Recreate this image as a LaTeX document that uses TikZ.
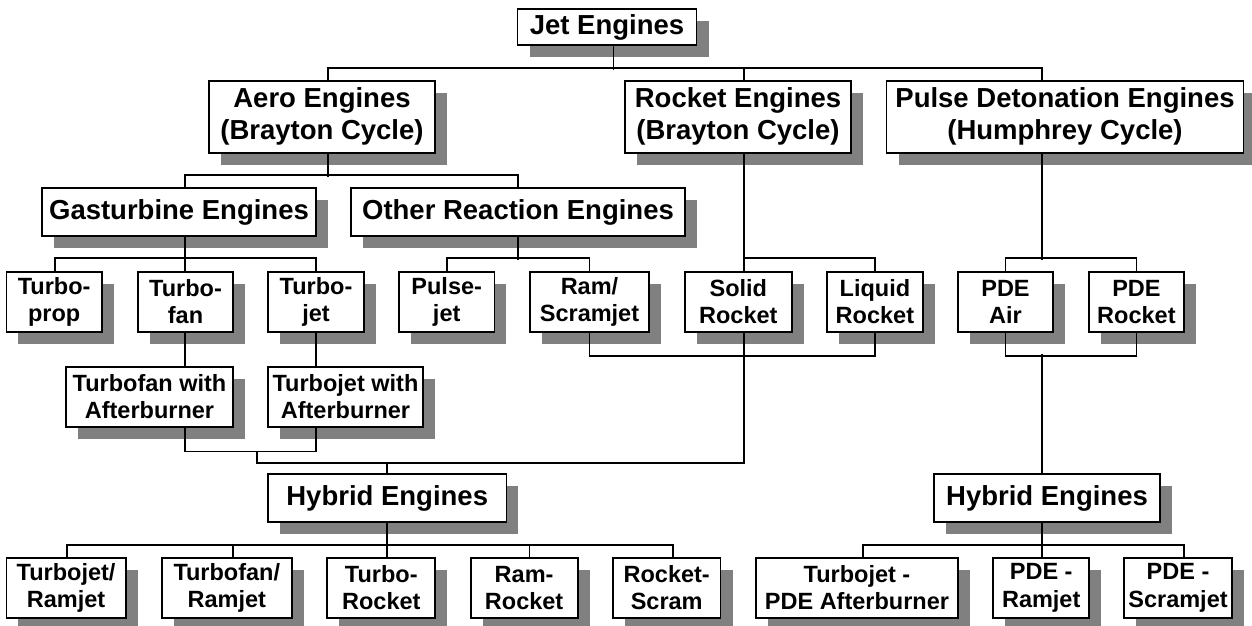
\documentclass[tikz,border=0pt]{standalone}
\usepackage{fontspec}
\setmainfont{Liberation Sans}
\usetikzlibrary{shadows}
\definecolor{shadowgray}{HTML}{808080}
\begin{document}
\begin{tikzpicture}[x=1pt,y=-1pt,
 box/.style={draw=black, line width=1.8pt, fill=white, align=center, inner sep=0pt,
   drop shadow={shadow xshift=12pt, shadow yshift=-12pt, fill=shadowgray, opacity=1}},
 bigbox/.style={box, font=\fontsize{27.5}{31.7}\selectfont\bfseries},
 smallbox/.style={box, font=\fontsize{23.5}{27.3}\selectfont\bfseries, minimum height=60pt},
 conn/.style={line width=1.8pt}]
\useasboundingbox (0,0) rectangle (1252,625);
% level 0-1
\node[bigbox, minimum width=179pt, minimum height=36pt] (jet) at (607,27.2) {Jet Engines};
\node[bigbox, minimum width=226pt, minimum height=72pt] (aero) at (322,116.7) {Aero Engines\\(Brayton Cycle)};
\node[bigbox, minimum width=226pt, minimum height=72pt] (rocket) at (738,116.7) {Rocket Engines\\(Brayton Cycle)};
\node[bigbox, minimum width=357pt, minimum height=72pt] (pde) at (1065,116.7) {Pulse Detonation Engines\\(Humphrey Cycle)};
\node[bigbox, minimum width=274pt, minimum height=48pt] (gas) at (179,212) {Gasturbine Engines};
\node[bigbox, minimum width=334pt, minimum height=48pt] (other) at (518,212) {Other Reaction Engines};
% row 1
\node[smallbox, minimum width=95.6pt] (tprop) at (54.2,301.7) {Turbo-\\prop};
\node[smallbox, minimum width=95pt] (tfan) at (185.5,301.7) {Turbo-\\fan};
\node[smallbox, minimum width=96pt] (tjet) at (316,301.7) {Turbo-\\jet};
\node[smallbox, minimum width=95.5pt] (pulse) at (446.7,301.7) {Pulse-\\jet};
\node[smallbox, minimum width=119pt] (ram) at (589.5,301.7) {Ram/\\Scramjet};
\node[smallbox, minimum width=106.7pt] (solid) at (738.3,301.7) {Solid\\Rocket};
\node[smallbox, minimum width=95.7pt] (liquid) at (874.9,301.7) {Liquid\\Rocket};
\node[smallbox, minimum width=95pt] (pdeair) at (1005.5,301.7) {PDE\\Air};
\node[smallbox, minimum width=95.6pt] (pderock) at (1136.4,301.7) {PDE\\Rocket};
% row 2
\node[smallbox, minimum width=167pt, minimum height=60.3pt] (tfab) at (149.5,396.8) {Turbofan with\\Afterburner};
\node[smallbox, minimum width=155pt, minimum height=60.3pt] (tjab) at (345.5,396.8) {Turbojet with\\Afterburner};
% hybrids
\node[bigbox, minimum width=238.4pt, minimum height=47.7pt] (hyb1) at (387.2,498.2) {Hybrid Engines};
\node[bigbox, minimum width=226pt, minimum height=47.7pt] (hyb2) at (1047,498.2) {Hybrid Engines};
% row 3
\node[smallbox, minimum width=119.4pt] (trj) at (66.1,587.7) {Turbojet/\\Ramjet};
\node[smallbox, minimum width=130.4pt] (tfrj) at (226.8,587.7) {Turbofan/\\Ramjet};
\node[smallbox, minimum width=108pt] (trock) at (381.3,587.7) {Turbo-\\Rocket};
\node[smallbox, minimum width=107pt] (rrock) at (524.1,587.7) {Ram-\\Rocket};
\node[smallbox, minimum width=107.7pt] (rscram) at (666.7,587.7) {Rocket-\\Scram};
\node[smallbox, minimum width=202pt] (tpde) at (857,587.7) {Turbojet -\\PDE Afterburner};
\node[smallbox, minimum width=95.7pt] (pderam) at (1041.2,587.7) {PDE -\\Ramjet};
\node[smallbox, minimum width=107.3pt] (pdescram) at (1178,587.7) {PDE -\\Scramjet};
% connectors level 1
\draw[conn] ([xshift=6.4pt]jet.south) -- ++(0,23.7);
\draw[conn] ([xshift=6pt]aero.north) -- ++(0,-11.7) -| ([xshift=-23.4pt]pde.north);
\draw[conn] ([xshift=6.3pt]rocket.north) -- ++(0,-11.7);
% level 2
\draw[conn] ([xshift=6pt]aero.south) -- ++(0,23.3);
\draw[conn] ([xshift=6pt]gas.north) -- ++(0,-12) -| (other.north);
% row 1
\draw[conn] ([xshift=6pt]gas.south) -- ([xshift=-0.5pt]tfan.north);
\draw[conn] ([xshift=0.8pt]tprop.north) -- ++(0,-12.7) -| (tjet.north);
\draw[conn] (other.south) -- ++(0,23);
\draw[conn] (pulse.north) -- ++(0,-12.7) -| (ram.north);
\draw[conn] ([xshift=6pt]rocket.south) -- ([xshift=5.7pt]solid.north);
\draw[conn] ([xshift=5.7pt]solid.north) -- ++(0,-12.7) -| (liquid.north);
\draw[conn] ([xshift=-23.4pt]pde.south) -- ++(0,106.3);
\draw[conn] (pdeair.north) -- ++(0,-12.7) -| (pderock.north);
% row 2
\draw[conn] ([xshift=-0.5pt]tfan.south) -- ([xshift=35.5pt]tfab.north);
\draw[conn] (tjet.south) -- ([xshift=-29.5pt]tjab.north);
\draw[conn] ([xshift=35.5pt]tfab.south) -- ++(0,23.7) -| ([xshift=-29.5pt]tjab.south);
\coordinate (m1) at (256.7,450.7);
\draw[conn] (m1) -- ++(0,12) -| ([xshift=5.7pt]solid.south);
\draw[conn] (ram.south) -- ++(0,23) -| (liquid.south);
\draw[conn] (hyb1.north) -- ++(0,-11.6);
% PDE branch
\draw[conn] (pdeair.south) -- ++(0,23) -| (pderock.south);
\draw[conn] ([xshift=-5.4pt]hyb2.north) -- ++(0,-119.6);
% row 3
\draw[conn] (hyb1.south) -- ++(0,23.8);
\draw[conn] ([xshift=0.5pt]trj.north) -- ++(0,-11.7) -| ([xshift=6.1pt]rscram.north);
\draw[conn] ([xshift=6pt]tfrj.north) -- ++(0,-11.7);
\draw[conn] ([xshift=5.7pt]trock.north) -- ++(0,-11.7);
\draw[conn] ([xshift=5.3pt]rrock.north) -- ++(0,-11.7);
\draw[conn] ([xshift=-5.4pt]hyb2.south) -- ++(0,23.8);
\draw[conn] ([xshift=5.8pt]tpde.north) -- ++(0,-11.7) -| ([xshift=6.2pt]pdescram.north);
\draw[conn] ([xshift=0.4pt]pderam.north) -- ++(0,-11.7);
\end{tikzpicture}
\end{document}
